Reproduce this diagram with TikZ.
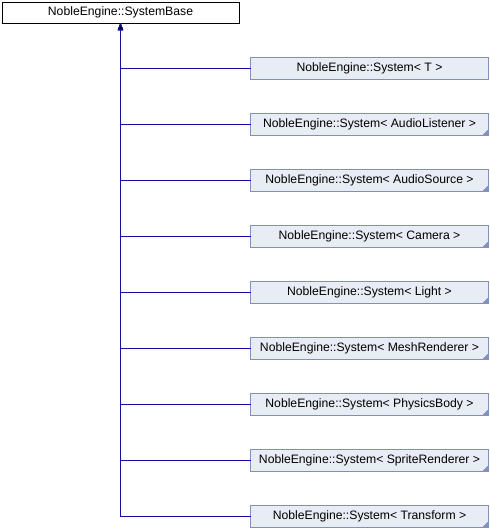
\documentclass[tikz,border=0pt]{standalone}
\usepackage{fontspec}
\setmainfont{Liberation Sans}
\usepackage{tikz}
\usetikzlibrary{arrows.meta}
\usetikzlibrary{positioning}
\usepackage{xcolor}
\definecolor{myblue}{HTML}{12129A}
\definecolor{myfill}{HTML}{E8ECF4}
\definecolor{myedge}{HTML}{8090B8}
\tikzset{node distance=34pt, every text node part/.style={align=center, font={\fontsize{12.2}{14}\selectfont}}}
\tikzstyle{base} = [draw=black, fill=white, line width=0.9pt, minimum width=237pt, minimum height=21pt, inner sep=0pt, outer sep=0pt]
\tikzstyle{block} = [draw=myedge, fill=myfill, line width=0.9pt, minimum width=238pt, minimum height=22pt, inner sep=0pt, outer sep=0pt]
\tikzstyle{tmpl} = [block, path picture={\fill[myedge] (path picture bounding box.south east) -- ++(-6pt,0) -- ++(6pt,6pt) -- cycle;}]
\tikzstyle{ln} = [draw=myblue, line width=0.9pt, arrows={-Triangle[length=7pt,width=5pt]}, to path={-| (\tikztotarget)}]

\begin{document}
\begin{tikzpicture}[x=1pt, y=1pt]
  \useasboundingbox (0,0) rectangle (490,-528);
  \node[base] (sysbase) at (120.5,-12.5) {NobleEngine::SystemBase};
  \node[block] (sysT) at (369.5,-68) {NobleEngine::System\textless{} T \textgreater};
  \node[tmpl, below=of sysT] (listener) {NobleEngine::System\textless{} AudioListener \textgreater};
  \node[tmpl, below=of listener] (source) {NobleEngine::System\textless{} AudioSource \textgreater};
  \node[tmpl, below=of source] (camera) {NobleEngine::System\textless{} Camera \textgreater};
  \node[tmpl, below=of camera] (light) {NobleEngine::System\textless{} Light \textgreater};
  \node[tmpl, below=of light] (mesh) {NobleEngine::System\textless{} MeshRenderer \textgreater};
  \node[tmpl, below=of mesh] (physics) {NobleEngine::System\textless{} PhysicsBody \textgreater};
  \node[tmpl, below=of physics] (sprite) {NobleEngine::System\textless{} SpriteRenderer \textgreater};
  \node[tmpl, below=of sprite] (transform) {NobleEngine::System\textless{} Transform \textgreater};
  \path[ln]
    (transform) edge (sysbase)
    (sprite) edge (sysbase)
    (physics) edge (sysbase)
    (mesh) edge (sysbase)
    (light) edge (sysbase)
    (camera) edge (sysbase)
    (source) edge (sysbase)
    (listener) edge (sysbase)
    (sysT) edge (sysbase);
\end{tikzpicture}
\end{document}
